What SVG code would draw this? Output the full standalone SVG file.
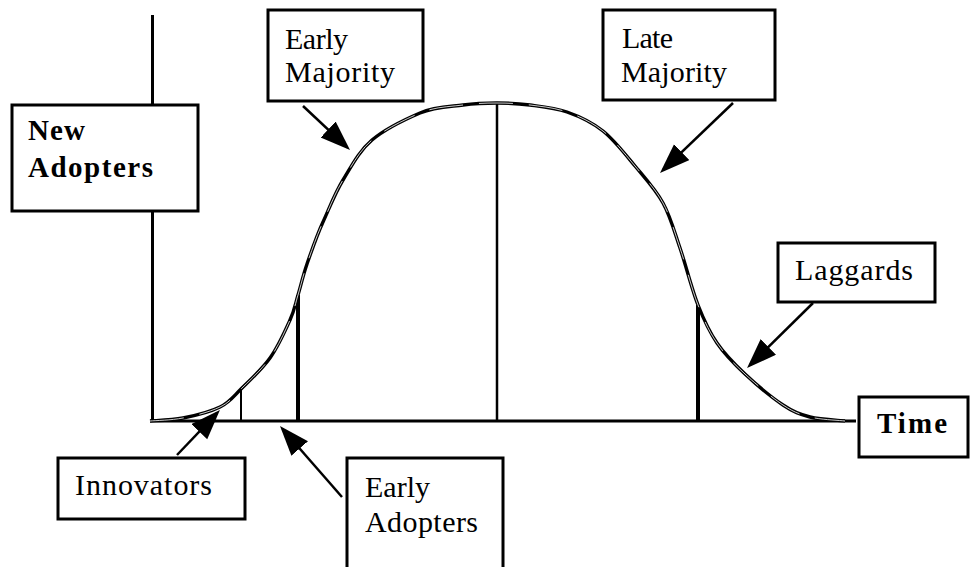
<svg xmlns="http://www.w3.org/2000/svg" width="972" height="567" viewBox="0 0 972 567">
<style>
.box{fill:#fff;stroke:#000;stroke-width:3}
.t{font-family:"Liberation Serif","Times New Roman",serif;font-size:30px;fill:#000}
.b{font-family:"Liberation Serif","Times New Roman",serif;font-size:29px;font-weight:bold;fill:#000}
.ax{stroke:#000;stroke-width:3;fill:none}
.arr{stroke:#000;stroke-width:2.5;fill:none;marker-end:url(#ah)}
.crv{stroke:#000;stroke-width:3.4;fill:none;stroke-linejoin:round}
.crv-in{stroke:#fff;stroke-width:0.8;fill:none;stroke-dasharray:34 16}
</style>
<defs>
<marker id="ah" markerUnits="userSpaceOnUse" markerWidth="32" markerHeight="24" refX="26" refY="11" orient="auto">
<path d="M0,0 L30,11 L0,22 z" fill="#000"/>
</marker>
<path id="curve" d="M150,421 C155.5,420.5 171.3,420.3 183,418 C194.7,415.7 210.3,411.8 220,407 C229.7,402.2 232.7,397.2 241,389 C249.3,380.8 261.8,369.5 270,358 C278.2,346.5 285.3,330.5 290,320 C294.7,309.5 295.2,304.3 298,295 C300.8,285.7 302.8,276.2 307,264 C311.2,251.8 316.7,235.7 323,222 C329.3,208.3 335,193 343,180 C351,167 359,151 372,140 C385,129 405.3,119.3 420,113 C434.7,106.7 450.2,106.7 463,105 C475.8,103.3 485.8,103 497,103 C508.2,103 518.3,103.5 530,105 C541.7,106.5 554.8,107.7 567,112 C579.2,116.3 591.7,122 603,131 C614.3,140 625,154 635,166 C645,178 655.5,189.3 663,203 C670.5,216.7 674.2,231 680,248 C685.8,265 691.8,289.2 698,305 C704.2,320.8 709.2,331.5 717,343 C724.8,354.5 734,363.7 745,374 C756,384.3 772.2,397.8 783,405 C793.8,412.2 799.7,414.3 810,417 C820.3,419.7 839.2,420.3 845,421"/>
</defs>

<g id="axes">
<line class="ax" x1="152.5" y1="15" x2="152.5" y2="421"/>
<line class="ax" x1="150" y1="421" x2="856" y2="421"/>
</g>

<g id="dividers" stroke="#000">
<line x1="241" y1="389" x2="241" y2="421" stroke-width="2"/>
<line x1="298" y1="295" x2="298" y2="421" stroke-width="4"/>
<line x1="497" y1="103" x2="497" y2="421" stroke-width="2.5"/>
<line x1="698" y1="305" x2="698" y2="421" stroke-width="4"/>
</g>

<g id="adoption-curve">
<use href="#curve" class="crv"/>
<use href="#curve" class="crv-in"/>
</g>

<g id="new-adopters">
<rect class="box" x="12" y="105" width="186" height="106"/>
<text class="b" x="28" y="140" textLength="57" lengthAdjust="spacing">New</text>
<text class="b" x="28" y="177" textLength="125" lengthAdjust="spacing">Adopters</text>
</g>

<g id="early-majority">
<rect class="box" x="268" y="10" width="155" height="91"/>
<text class="t" x="285" y="49" textLength="63" lengthAdjust="spacing">Early</text>
<text class="t" x="285" y="82" textLength="110" lengthAdjust="spacing">Majority</text>
</g>

<g id="late-majority">
<rect class="box" x="603" y="10" width="172" height="90"/>
<text class="t" x="622" y="48" textLength="51" lengthAdjust="spacing">Late</text>
<text class="t" x="621" y="82" textLength="106" lengthAdjust="spacing">Majority</text>
</g>

<g id="laggards">
<rect class="box" x="778" y="243" width="157" height="59"/>
<text class="t" x="795" y="280" textLength="118" lengthAdjust="spacing">Laggards</text>
</g>

<g id="time">
<rect class="box" x="859" y="397" width="109" height="60"/>
<text class="b" x="877" y="433" textLength="70" lengthAdjust="spacing">Time</text>
</g>

<g id="innovators">
<rect class="box" x="58" y="458" width="187" height="61"/>
<text class="t" x="75" y="495" textLength="137" lengthAdjust="spacing">Innovators</text>
</g>

<g id="early-adopters">
<rect class="box" x="347" y="458" width="156" height="130"/>
<text class="t" x="365" y="497" textLength="65" lengthAdjust="spacing">Early</text>
<text class="t" x="365" y="532" textLength="113" lengthAdjust="spacing">Adopters</text>
</g>

<g id="connectors">
<line class="arr" x1="303" y1="106" x2="347.1" y2="147.3"/>
<line class="arr" x1="733" y1="103" x2="662.9" y2="170.2"/>
<line class="arr" x1="813" y1="303" x2="749.9" y2="365.2"/>
<line class="arr" x1="177" y1="455" x2="217.2" y2="412.9"/>
<line class="arr" x1="342" y1="497" x2="282.6" y2="429"/>
</g>
</svg>
